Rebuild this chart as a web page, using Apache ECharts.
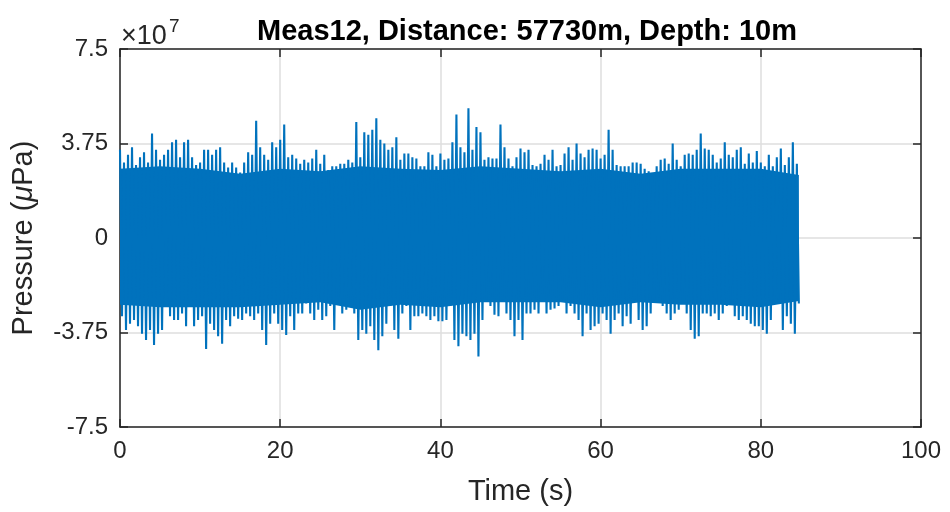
<!DOCTYPE html>
<html>
<head>
<meta charset="utf-8">
<script src="https://cdn.jsdelivr.net/npm/echarts@6/dist/echarts.min.js"></script>
<style>
    html, body { margin: 0; padding: 0; background: #fff; }
    #chart { width: 950px; height: 512px; }
</style>
</head>
<body>
<div id="chart"></div>
<script>
// values in units of 1e7 uPa
const sampleStep = 0.5; // s, spacing of the peaks read below
const upperPeaks = [
    3.5, 3.0, 3.3, 3.6, 2.9, 3.2, 3.4, 3.0, 4.15, 3.5, 3.1, 3.3, 3.5, 3.8, 3.9, 3.2, 3.8, 3.9, 3.2, 2.9, 3.0,
    3.5, 3.5, 3.3, 3.5, 3.6, 3.0, 2.8, 3.0, 2.8, 2.6, 3.0, 3.4, 3.3, 4.65, 3.6, 3.3, 3.1, 3.8, 3.6, 3.9, 4.5,
    3.2, 3.3, 3.15, 2.95, 3.1, 3.0, 3.15, 3.5, 2.95, 3.3, 2.7, 2.85, 2.85, 2.95, 2.95, 3.1, 3.0, 4.6, 3.2, 4.2,
    4.1, 4.3, 4.75, 3.9, 3.75, 3.5, 3.6, 4.0, 3.1, 3.35, 3.35, 3.2, 3.15, 2.85, 2.85, 3.4, 3.3, 2.85, 3.35, 3.1,
    3.15, 3.8, 4.9,
    3.6, 3.4, 5.15, 3.5, 4.4, 4.2, 3.1, 3.2, 3.15, 3.15, 4.5, 3.6, 3.15, 2.85, 3.2, 3.55, 3.4, 3.5, 2.9, 2.85,
    2.95, 3.3, 3.1, 3.5, 2.85, 2.9, 3.35, 3.6, 3.1, 3.75, 3.35, 3.2, 3.5, 3.55, 3.5, 3.15, 3.3, 4.3, 3.5, 2.9,
    2.85, 2.85,
    2.85, 3.0, 3.0, 2.95, 2.75, 2.65, 2.55, 2.85, 3.1, 3.15, 2.95, 3.75, 3.1, 2.85, 3.3, 3.35, 3.3, 3.5, 4.15,
    3.55, 3.5, 3.3, 3.0, 3.15, 3.8, 3.3, 3.2, 3.5, 3.6, 2.95, 3.35, 3.0, 3.45, 3.0, 2.85, 3.3, 2.85, 3.2, 3.55,
    2.9, 3.2, 3.8, 2.95
];
const lowerPeaks = [
    -3.1, -3.65, -3.4, -3.25, -3.5, -3.8, -4.05, -3.65, -4.25, -3.8, -3.65, -2.7, -3.1, -3.25, -3.25, -3.0,
    -3.5, -2.7, -3.5, -3.25, -3.1, -4.4, -3.4, -3.65, -3.9, -4.2, -3.25, -3.5, -3.1, -3.2, -3.25, -3.0, -3.1,
    -3.25, -3.0, -3.65, -4.25, -3.4, -3.0, -3.4, -3.65, -3.85,
    -3.1, -3.65, -3.0, -3.0, -2.6, -3.0, -3.25, -2.85, -3.25, -3.1, -2.7, -3.65, -2.45, -3.0, -2.85, -2.6,
    -3.0, -4.05, -3.65, -3.8, -3.5, -4.05, -4.45, -3.9, -3.4, -2.7, -3.65, -4.0, -3.0, -2.7, -3.65, -3.1,
    -3.1, -3.0, -3.1, -3.25, -3.1, -3.3, -3.3, -3.25, -2.7, -4.05, -4.3,
    -3.8, -3.9, -4.05, -3.8, -4.7, -3.25, -2.45, -2.7, -3.05, -3.1, -2.45, -3.0, -3.25, -3.9, -3.25, -4.05,
    -3.0, -3.0, -2.85, -3.0, -2.2, -3.0, -2.85, -2.8, -2.7, -2.45, -3.0, -2.7, -3.0, -3.25, -3.9, -3.0,
    -3.65, -3.5, -3.4, -3.0, -3.25, -3.8, -3.25, -3.0, -3.5, -3.1,
    -3.4, -2.45, -3.25, -3.65, -3.5, -3.0, -2.45, -2.35, -2.7, -3.0, -3.25, -3.0, -2.85, -2.6, -3.0, -3.65,
    -4.0, -3.9, -3.0, -3.0, -3.1, -3.0, -3.25, -3.0, -2.7, -2.45, -3.1, -3.25, -3.1, -3.25, -3.4, -3.5,
    -3.5, -3.65, -3.8, -3.25, -2.6, -2.45, -3.65, -3.1, -3.4, -3.8, -2.6
];
// solid middle of the trace
const coreTimes = [0, 5, 10, 15, 20, 25, 30, 35, 40, 45, 50, 55, 60, 65, 70, 75, 80, 84.75];
const coreUpper = [2.75, 2.85, 2.75, 2.55, 2.75, 2.65, 2.85, 2.75, 2.7, 2.85, 2.75, 2.65, 2.75, 2.55, 2.75, 2.75, 2.75, 2.5];
const coreLower = [-2.65, -2.75, -2.75, -2.75, -2.65, -2.55, -2.85, -2.65, -2.75, -2.55, -2.55, -2.55, -2.75, -2.55, -2.65, -2.65, -2.75, -2.5];

const xTicks = { min: 0, max: 100, interval: 20 };
const yTicks = { min: -7.5, max: 7.5, interval: 3.75 };

const blue = '#0072BD';
const ink = '#262626';
const font = 'Liberation Sans, Arial, Helvetica, sans-serif';

// zigzag trace: up to each upper peak, down to each lower peak
let trace = [];
upperPeaks.forEach((u, i) => {
    let t = i * sampleStep;
    trace.push([t, u]);
    trace.push([t + sampleStep / 2, lowerPeaks[i]]);
});
const coreTop = coreTimes.map((t, i) => [t, coreUpper[i]]);
const coreBottom = coreTimes.map((t, i) => [t, coreLower[i]]);

let myChart = echarts.init(document.getElementById('chart'));

const tickStyle = { inside: true, length: 8, lineStyle: { color: ink, width: 1.5 } };
const lineStyle = { onZero: false, lineStyle: { color: ink, width: 1.5 } };
const gridLine = { show: true, lineStyle: { color: '#dedede', width: 1.5 } };

let option = {
    animation: false,
    backgroundColor: '#fff',
    textStyle: { fontFamily: font },
    title: {
        text: 'Meas12, Distance: 57730m, Depth: 10m',
        left: 522,
        top: 12,
        textAlign: 'center',
        textStyle: { fontSize: 29, fontWeight: 'bold', color: '#000', fontFamily: font }
    },
    grid: { left: 120, right: 29, top: 49, bottom: 85 },
    graphic: [
        { type: 'text', left: 121, top: 23, style: { text: '×10', fontSize: 27, fill: ink, fontFamily: font } },
        { type: 'text', left: 169, top: 17, style: { text: '7', fontSize: 19, fill: ink, fontFamily: font } }
    ],
    xAxis: [
        {
            type: 'value',
            min: xTicks.min,
            max: xTicks.max,
            interval: xTicks.interval,
            name: 'Time (s)',
            nameLocation: 'middle',
            nameGap: 50,
            nameTextStyle: { fontSize: 29, color: ink, fontFamily: font },
            axisLine: lineStyle,
            axisTick: tickStyle,
            axisLabel: { fontSize: 24, color: ink, margin: 12, fontFamily: font },
            splitLine: gridLine
        },
        {
            type: 'value',
            position: 'top',
            min: xTicks.min,
            max: xTicks.max,
            interval: xTicks.interval,
            axisLine: lineStyle,
            axisTick: tickStyle,
            axisLabel: { show: false },
            splitLine: { show: false }
        }
    ],
    yAxis: [
        {
            type: 'value',
            min: yTicks.min,
            max: yTicks.max,
            interval: yTicks.interval,
            name: 'Pressure ({i|μ}Pa)',
            nameLocation: 'middle',
            nameGap: 82,
            nameTextStyle: {
                fontSize: 29, color: ink, fontFamily: font,
                rich: { i: { fontSize: 29, fontStyle: 'italic', color: ink, fontFamily: font } }
            },
            axisLine: lineStyle,
            axisTick: tickStyle,
            axisLabel: { fontSize: 24, color: ink, margin: 12, fontFamily: font, formatter: v => String(v) },
            splitLine: gridLine
        },
        {
            type: 'value',
            position: 'right',
            min: yTicks.min,
            max: yTicks.max,
            interval: yTicks.interval,
            axisLine: { show: true, onZero: false, lineStyle: { color: ink, width: 1.5 } },
            axisTick: Object.assign({ show: true }, tickStyle),
            axisLabel: { show: false },
            splitLine: { show: false }
        }
    ],
    series: [
        {
            type: 'line',
            data: coreTop,
            symbol: 'none',
            lineStyle: { width: 0 },
            areaStyle: { color: blue, opacity: 1, origin: 0 },
            silent: true
        },
        {
            type: 'line',
            data: coreBottom,
            symbol: 'none',
            lineStyle: { width: 0 },
            areaStyle: { color: blue, opacity: 1, origin: 0 },
            silent: true
        },
        {
            type: 'line',
            data: trace,
            symbol: 'none',
            sampling: null,
            lineStyle: { color: blue, width: 2.1 }
        }
    ]
};
myChart.setOption(option);
</script>
</body>
</html>
